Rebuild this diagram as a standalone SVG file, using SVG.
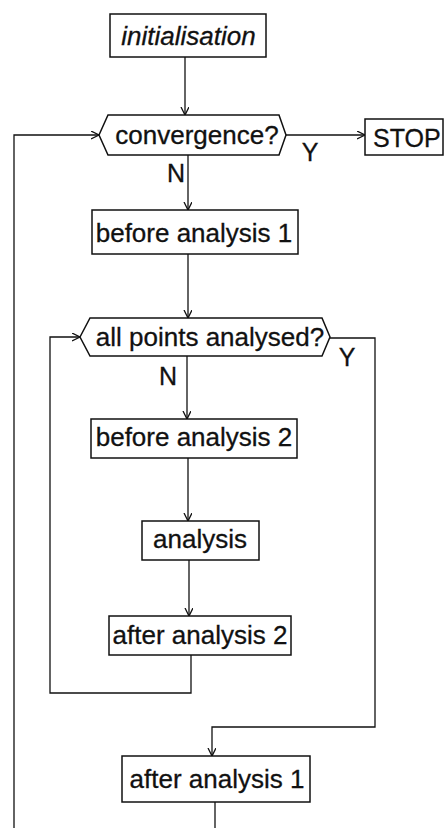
<svg xmlns="http://www.w3.org/2000/svg" width="444" height="828" viewBox="0 0 444 828">
<style>
.box{fill:#fff;stroke:#111;stroke-width:1.5}
.lbl{font-family:"Liberation Sans",Arial,sans-serif;font-size:26px;fill:#111;text-anchor:middle;stroke:#111;stroke-width:0.3}
.it{font-style:italic}
.yn{font-family:"Liberation Sans",Arial,sans-serif;font-size:25px;fill:#111;text-anchor:middle;stroke:#111;stroke-width:0.3}
.con{fill:none;stroke:#111;stroke-width:1.3}
</style>
<defs>
<marker id="arr" markerUnits="userSpaceOnUse" markerWidth="10" markerHeight="10" refX="8" refY="4" orient="auto">
<path d="M0,0 L8,4 L0,8" fill="none" stroke="#111" stroke-width="1.3"/>
</marker>
</defs>
<g id="connectors">
<path class="con" d="M185,57 V115" marker-end="url(#arr)"/>
<path class="con" d="M286,135 H365" marker-end="url(#arr)"/>
<path class="con" d="M188,155 V210" marker-end="url(#arr)"/>
<path class="con" d="M188,254 V318" marker-end="url(#arr)"/>
<path class="con" d="M187,356 V419" marker-end="url(#arr)"/>
<path class="con" d="M188,458 V521" marker-end="url(#arr)"/>
<path class="con" d="M189,560 V616" marker-end="url(#arr)"/>
<path class="con" d="M191,655 V693 H50 V337 H80" marker-end="url(#arr)"/>
<path class="con" d="M330,338 H375 V727 H212 V756" marker-end="url(#arr)"/>
<path class="con" d="M215,802 V828"/>
<path class="con" d="M14,828 V135 H99" marker-end="url(#arr)"/>
</g>
<g id="initialisation">
<rect class="box" x="110" y="14" width="156" height="43"/>
<text class="lbl it" x="188.5" y="45">initialisation</text>
</g>
<g id="convergence">
<polygon class="box" points="99,135 108,115 279,115 286,135 279,155 108,155"/>
<text class="lbl" x="197" y="144">convergence?</text>
</g>
<g id="stop">
<rect class="box" x="365" y="119" width="78" height="36"/>
<text class="lbl" x="373" y="147" style="text-anchor:start;font-size:25px">STOP</text>
</g>
<g id="labels1">
<text class="yn" x="310" y="161">Y</text>
<text class="yn" x="176" y="182">N</text>
</g>
<g id="before1">
<rect class="box" x="92" y="210" width="206" height="44"/>
<text class="lbl" x="194" y="242">before analysis 1</text>
</g>
<g id="allpoints">
<polygon class="box" points="80,337 90,318 322,318 330,337 322,356 90,356"/>
<text class="lbl" x="210" y="346">all points analysed?</text>
</g>
<g id="labels2">
<text class="yn" x="347" y="366">Y</text>
<text class="yn" x="168" y="385">N</text>
</g>
<g id="before2">
<rect class="box" x="91" y="419" width="206" height="39"/>
<text class="lbl" x="194" y="446">before analysis 2</text>
</g>
<g id="analysis">
<rect class="box" x="142" y="521" width="117" height="39"/>
<text class="lbl" x="200" y="548">analysis</text>
</g>
<g id="after2">
<rect class="box" x="109" y="616" width="182" height="39"/>
<text class="lbl" x="200" y="644">after analysis 2</text>
</g>
<g id="after1">
<rect class="box" x="122" y="756" width="188" height="46"/>
<text class="lbl" x="217" y="788">after analysis 1</text>
</g>
</svg>
